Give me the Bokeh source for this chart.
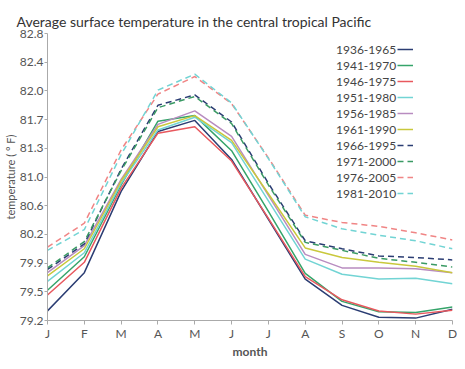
from bokeh.plotting import figure
from bokeh.models import Range1d, FixedTicker, Legend, LegendItem
from bokeh.embed import file_html
from bokeh.resources import INLINE

months = ["J", "F", "M", "A", "M", "J", "J", "A", "S", "O", "N", "D"]
month_idx = list(range(12))

periods = ["1936-1965", "1941-1970", "1946-1975", "1951-1980", "1956-1985",
           "1961-1990", "1966-1995", "1971-2000", "1976-2005", "1981-2010"]

t1936 = [79.28, 79.76, 80.78, 81.53, 81.67, 81.18, 80.43, 79.68, 79.35, 79.20, 79.19, 79.30]
t1941 = [79.54, 79.96, 80.86, 81.66, 81.73, 81.29, 80.53, 79.75, 79.40, 79.27, 79.26, 79.33]
t1946 = [79.48, 79.89, 80.82, 81.51, 81.59, 81.16, 80.44, 79.71, 79.42, 79.28, 79.24, 79.29]
t1951 = [79.65, 80.01, 80.88, 81.55, 81.71, 81.39, 80.66, 79.93, 79.74, 79.68, 79.69, 79.62]
t1956 = [79.76, 80.10, 80.93, 81.62, 81.79, 81.47, 80.73, 79.99, 79.82, 79.82, 79.81, 79.76]
t1961 = [79.72, 80.06, 80.91, 81.59, 81.73, 81.42, 80.75, 80.07, 79.95, 79.89, 79.84, 79.76]
t1966 = [79.80, 80.12, 81.06, 81.86, 81.99, 81.65, 80.88, 80.16, 80.06, 79.97, 79.95, 79.92]
t1971 = [79.82, 80.15, 81.04, 81.83, 81.97, 81.63, 80.86, 80.14, 80.04, 79.94, 79.89, 79.83]
t1976 = [80.08, 80.38, 81.30, 82.00, 82.22, 81.88, 81.20, 80.48, 80.39, 80.34, 80.26, 80.17]
t1981 = [80.04, 80.30, 81.24, 82.05, 82.25, 81.89, 81.19, 80.46, 80.31, 80.23, 80.16, 80.06]

y_ticks = [79.16, 79.52, 79.88, 80.24, 80.60, 80.96, 81.32, 81.68, 82.04, 82.40, 82.76]
y_tick_labels = ["79.2", "79.5", "79.9", "80.2", "80.6", "81.0", "81.3", "81.7", "82.0", "82.4", "82.8"]

series = [t1936, t1941, t1946, t1951, t1956, t1961, t1966, t1971, t1976, t1981]
colors = ["#2b3d73", "#35a46a", "#e8585e", "#72d4d4", "#b88cc0", "#c9c83c",
          "#2b3d73", "#3a9a64", "#f08585", "#72d4d4"]
dashes = ["solid"] * 6 + ["6 4"] * 4

FONT = "Lato"
TXT = "#555555"

p = figure(width=457, height=361, output_backend="svg", toolbar_location=None,
           x_range=Range1d(0, 11), y_range=Range1d(y_ticks[0], y_ticks[-1]),
           min_border_left=43, min_border_right=5, min_border_top=33, min_border_bottom=0)

p.title.text = "Average surface temperature in the central tropical Pacific"
p.title.text_font = FONT
p.title.text_font_size = "14px"
p.title.text_font_style = "normal"
p.title.text_color = "#333333"
p.title.vertical_align = "top"
p.title.standoff = 4
p.title.offset = -31

p.outline_line_color = None
p.xgrid.visible = False
p.ygrid.visible = False

for ax in (p.xaxis[0], p.yaxis[0]):
    ax.axis_line_color = "#aaaaaa"
    ax.major_tick_line_color = "#aaaaaa"
    ax.minor_tick_line_color = None
    ax.major_tick_in = 0
    ax.major_tick_out = 4
    ax.major_label_text_font = FONT
    ax.major_label_text_font_size = "12px"
    ax.major_label_text_color = TXT
    ax.axis_label_text_font = FONT
    ax.axis_label_text_color = TXT

p.xaxis.ticker = FixedTicker(ticks=month_idx)
p.xaxis.major_label_overrides = {i: m for i, m in zip(month_idx, months)}
p.xaxis.axis_label = "month"
p.xaxis.axis_label_text_font_size = "12px"
p.xaxis.axis_label_text_font_style = "bold"
p.xaxis.axis_label_standoff = 0
p.xaxis.major_label_standoff = 1

p.yaxis.major_tick_out = 3
p.yaxis.ticker = FixedTicker(ticks=y_ticks)
p.yaxis.major_label_overrides = {t: l for t, l in zip(y_ticks, y_tick_labels)}
p.yaxis.axis_label = "temperature ( \u00b0 F)"
p.yaxis.axis_label_text_font_size = "11px"
p.yaxis.axis_label_text_font_style = "normal"
p.yaxis.axis_label_standoff = 0
p.yaxis.major_label_standoff = 1

items_a, items_b = [], []
for name, vals, c, d in zip(periods, series, colors, dashes):
    r = p.line(month_idx, vals, line_color=c, line_width=1.5, line_dash=d)
    items_a.append(LegendItem(label=name, renderers=[r]))
    items_b.append(LegendItem(label=" ", renderers=[r]))

def style_legend(lg):
    lg.background_fill_alpha = 0
    lg.border_line_color = None
    lg.padding = 0
    lg.margin = 0
    lg.spacing = 0
    lg.label_height = 16
    lg.glyph_height = 16
    lg.label_text_font = FONT
    lg.label_text_font_size = "12px"
    lg.label_text_color = "#444444"
    lg.label_standoff = 0

leg_a = Legend(items=items_a, location=(289, 119), glyph_width=0)
style_legend(leg_a)
leg_b = Legend(items=items_b, location=(350, 119), glyph_width=16)
style_legend(leg_b)
p.add_layout(leg_a, "center")
p.add_layout(leg_b, "center")

open("out.html", "w").write(file_html(p, INLINE))
